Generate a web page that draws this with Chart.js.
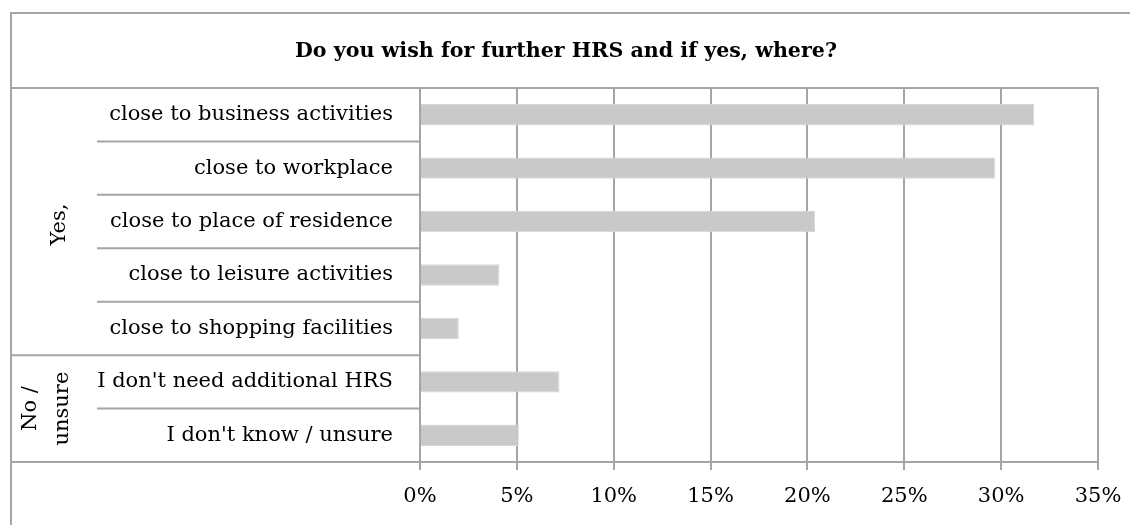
<!DOCTYPE html>
<html>
<head>
<meta charset="utf-8">
<script src="https://cdn.jsdelivr.net/npm/chart.js@4.4.0/dist/chart.umd.min.js"></script>
<style>
  html, body { margin: 0; padding: 0; background: #fff; }
  #wrap { width: 1130px; height: 525px; }
</style>
</head>
<body>
<div id="wrap"><canvas id="hrsChart"></canvas></div>
<script>
const titleText = 'Do you wish for further HRS and if yes, where?';
const categories = [
    'close to business activities',
    'close to workplace',
    'close to place of residence',
    'close to leisure activities',
    'close to shopping facilities',
    "I don't need additional HRS",
    "I don't know / unsure"
];
const shares = [31.7, 29.7, 20.4, 4.1, 2.0, 7.2, 5.1];
const groupNames = [['Yes,'], ['No /', 'unsure']];
const groupSizes = [5, 2];
const xTicks = [0, 5, 10, 15, 20, 25, 30, 35];

const FONT = "'DejaVu Serif', serif";
const LINE = '#a5a5a5';

// frame, row separators, group labels and title
const frame = {
    id: 'frame',
    afterDraw(chart) {
        const c = chart.ctx;
        const area = chart.chartArea;
        const y = chart.scales.y;
        const step = y.getPixelForValue(1) - y.getPixelForValue(0);
        c.save();
        c.strokeStyle = LINE;
        c.lineWidth = 2;
        c.beginPath();
        // outer border (left and top visible)
        c.moveTo(11, 600); c.lineTo(11, 13); c.lineTo(1200, 13);
        // plot frame top + right
        c.moveTo(10, area.top); c.lineTo(area.right, area.top); c.lineTo(area.right, area.bottom);
        // bottom line through label column
        c.moveTo(10, area.bottom); c.lineTo(area.left, area.bottom);
        // separators between rows
        let idx = 0;
        groupSizes.forEach((n, g) => {
            for (let k = 1; k < n; k++) {
                const yy = y.getPixelForValue(idx + k) - step / 2;
                c.moveTo(97, yy); c.lineTo(area.left, yy);
            }
            idx += n;
            if (g < groupSizes.length - 1) {
                const yy = y.getPixelForValue(idx) - step / 2;
                c.moveTo(10, yy); c.lineTo(area.left, yy);
            }
        });
        c.stroke();

        // group labels, rotated
        c.fillStyle = '#000';
        c.font = '21px ' + FONT;
        c.textAlign = 'center';
        c.textBaseline = 'middle';
        idx = 0;
        groupSizes.forEach((n, g) => {
            const top = y.getPixelForValue(idx) - step / 2;
            const bottom = y.getPixelForValue(idx + n - 1) + step / 2;
            const lines = groupNames[g];
            c.save();
            c.translate(lines.length === 1 ? 60 : 47, (top + bottom) / 2 + (lines.length === 1 ? 3 : 0));
            c.rotate(-Math.PI / 2);
            lines.forEach((t, i) => {
                c.fillText(t, 0, (i - (lines.length - 1) / 2) * 32);
            });
            c.restore();
            idx += n;
        });

        // title
        c.font = 'bold 20.6px ' + FONT;
        c.fillText(titleText, 566, 52);
        c.restore();
    }
};

new Chart(document.getElementById('hrsChart'), {
    type: 'bar',
    data: {
        labels: categories,
        datasets: [{
            data: shares,
            backgroundColor: '#c9c9c9',
            borderColor: '#d6d6d6',
            borderWidth: 1,
            barPercentage: 0.4,
            categoryPercentage: 1
        }]
    },
    options: {
        indexAxis: 'y',
        responsive: true,
        maintainAspectRatio: false,
        animation: false,
        layout: {
            padding: { left: 10, top: 88, right: 32, bottom: 0 }
        },
        plugins: {
            legend: { display: false },
            title: { display: false },
            tooltip: { enabled: false }
        },
        scales: {
            x: {
                min: 0,
                max: 35,
                afterBuildTicks: (scale) => {
                    scale.ticks = xTicks.map(v => ({ value: v }));
                },
                afterFit: (scale) => {
                    scale.height = 63;
                    scale.paddingRight = 0;
                    scale.paddingLeft = 0;
                },
                grid: {
                    color: LINE,
                    lineWidth: 2,
                    tickLength: 8
                },
                border: { color: LINE, width: 2 },
                ticks: {
                    color: '#000',
                    padding: 14,
                    font: { family: FONT, size: 21 },
                    callback: (v) => v + '%'
                }
            },
            y: {
                afterFit: (scale) => { scale.width = 410; },
                grid: { display: false },
                border: { color: LINE, width: 2 },
                ticks: {
                    color: '#000',
                    padding: 19,
                    font: { family: FONT, size: 21 }
                }
            }
        }
    },
    plugins: [frame]
});
</script>
</body>
</html>
